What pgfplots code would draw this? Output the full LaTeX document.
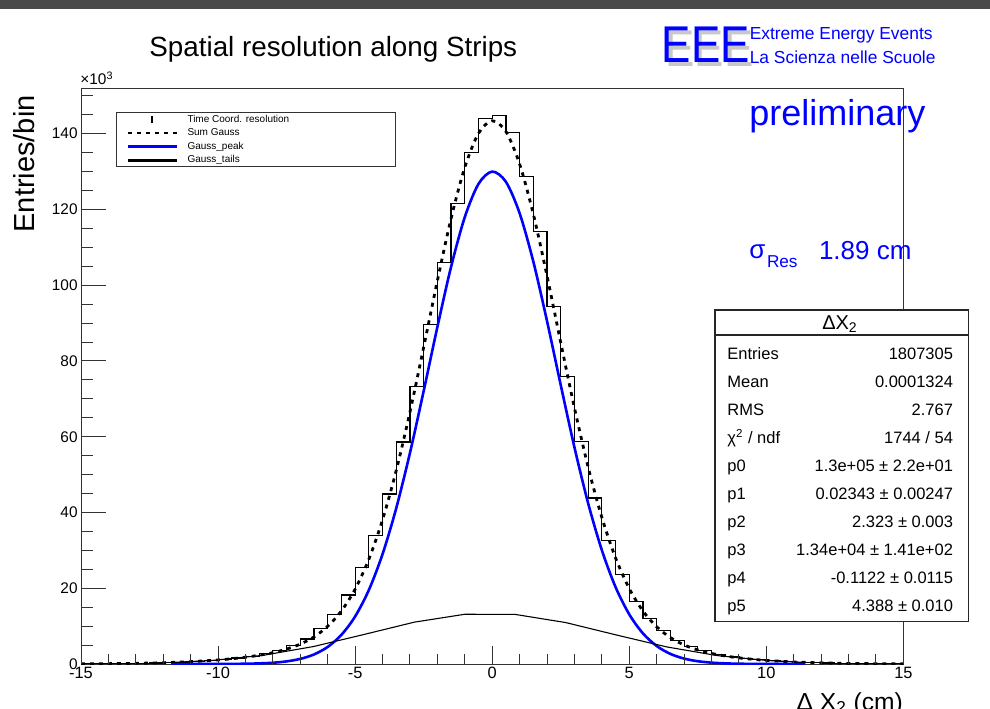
\documentclass[border=0pt]{standalone}
\usepackage{fontspec}
\setmainfont{Liberation Sans}
\usepackage{pgfplots}
\pgfplotsset{compat=1.18}
\definecolor{rootblue}{RGB}{0,0,255}
\definecolor{band}{RGB}{74,74,74}
\definecolor{shadowgray}{RGB}{200,200,200}

\begin{document}
\begin{tikzpicture}
\path[use as bounding box, fill=white] (0,0) rectangle (495pt,354pt);
\fill[band] (0,349.6pt) rectangle (495pt,354pt);

\begin{axis}[
  scale only axis, width=411.2pt, height=287.9pt,
  at={(40.5pt,22pt)}, anchor=south west,
  xmin=-15, xmax=15, ymin=0, ymax=152,
  axis line style={black!80, line width=0.5pt},
  xtick=\empty,
  ytick={0,20,...,140},
  minor ytick={0,5,...,150},
  ytick pos=left,
  tick align=inside,
  major tick length=12.5pt, minor tick length=6pt,
  every tick/.style={black!80, line width=0.5pt},
  yticklabel style={font=\fontsize{7.7}{9}\selectfont, inner sep=1.5pt},
  /pgf/number format/assume math mode=true,
  legend cell align=left,
  legend style={at={(0.0422,0.9583)}, anchor=north west, draw=black!80, line width=0.5pt,
    fill=white, font=\fontsize{5}{6}\selectfont, inner xsep=5.15pt, inner ysep=0.5pt,
    row sep=1.1pt, column sep=4.5pt, nodes={inner sep=0pt}},
]
% histogram (left bin edges, bin width 0.5)
\addplot[const plot, black, line width=0.6pt,
  legend image code/.code={\draw[black,line width=0.8pt] (12pt,-1.9pt) -- (12pt,1.9pt);}]
coordinates {
(-15,0.05) (-14.5,0.07) (-14,0.1) (-13.5,0.13) (-13,0.18) (-12.5,0.25) (-12,0.35) (-11.5,0.5)
(-11,0.7) (-10.5,0.95) (-10,1.25) (-9.5,1.6) (-9,2.05) (-8.5,2.7) (-8,3.6) (-7.5,4.8)
(-7,6.6) (-6.5,9.4) (-6,13.1) (-5.5,18.2) (-5,25.4) (-4.5,34.0) (-4,44.9) (-3.5,58.6)
(-3,73.3) (-2.5,89.6) (-2,105.9) (-1.5,121.5) (-1,135.0) (-0.5,144.0) (0,144.7) (0.5,140.2)
(1,128.6) (1.5,114.2) (2,94.4) (2.5,75.9) (3,58.7) (3.5,43.8) (4,32.5) (4.5,23.7)
(5,16.6) (5.5,12.1) (6,8.8) (6.5,6.3) (7,4.6) (7.5,3.5) (8,2.6) (8.5,2.0)
(9,1.5) (9.5,1.15) (10,0.9) (10.5,0.65) (11,0.5) (11.5,0.35) (12,0.25) (12.5,0.18)
(13,0.13) (13.5,0.1) (14,0.07) (14.5,0.05) (15,0.05)
};
\addlegendentry{\makebox[99pt][l]{Time Coord. resolution\strut}}
% Sum Gauss
\addplot[smooth, black, line width=1.4pt, dash pattern=on 2pt off 2.5pt,
  legend image code/.code={\draw[black,line width=1.4pt,dash pattern=on 2pt off 2.5pt] (0pt,0pt) -- (24.5pt,0pt);}]
coordinates {
(-15,0.04) (-14,0.09) (-13,0.18) (-12,0.34) (-11,0.62) (-10,1.07) (-9.5,1.39) (-9,1.79)
(-8.5,2.32) (-8,2.99) (-7.5,3.94) (-7,5.26) (-6.5,7.16) (-6,9.96) (-5.5,14.01) (-5,19.76)
(-4.5,27.65) (-4,38.06) (-3.5,51.10) (-3,66.52) (-2.5,83.62) (-2,101.18) (-1.5,117.60)
(-1,131.11) (-0.5,140.09) (0,143.39) (0.5,140.56) (1,131.98) (1.5,118.75) (2,102.45)
(2.5,84.86) (3,67.62) (3.5,51.97) (4,38.68) (4.5,28.01) (5,19.90) (5.5,13.98) (6,9.83)
(6.5,6.98) (7,5.03) (7.5,3.71) (8,2.79) (8.5,2.12) (9,1.62) (9.5,1.25) (10,0.95)
(11,0.54) (12,0.30) (13,0.15) (14,0.08) (15,0.04)
};
\addlegendentry{Sum Gauss\strut}
% Gauss peak
\addplot[smooth, rootblue, line width=1.3pt,
  legend image code/.code={\draw[rootblue,line width=1.5pt] (0pt,0pt) -- (24.5pt,0pt);}]
coordinates {
(-11.7,0.0) (-10,0.01) (-9,0.07) (-8.5,0.16) (-8,0.33) (-7.5,0.69) (-7,1.35) (-6.5,2.52)
(-6,4.51) (-5.5,7.70) (-5,12.55) (-4.5,19.52) (-4,29.01) (-3.5,41.15) (-3,55.73)
(-2.5,72.06) (-2,88.96) (-1.5,104.85) (-1,117.98) (-0.5,126.74) (0,129.99) (0.5,127.29)
(1,119.00) (1.5,106.22) (2,90.52) (2.5,73.64) (3,57.20) (3.5,42.42) (4,30.04) (4.5,20.30)
(5,13.10) (5.5,8.07) (6,4.75) (6.5,2.67) (7,1.43) (7.5,0.73) (8,0.36) (8.5,0.17)
(9,0.07) (10,0.01) (11.4,0.0)
};
\addlegendentry{Gauss\_peak\strut}
% Gauss tails
\addplot[black, line width=0.55pt,
  legend image code/.code={\draw[black,line width=1.5pt] (0pt,0pt) -- (24.5pt,0pt);}]
coordinates {
(-11.7,0.41) (-10.2,0.95) (-8.36,2.29) (-6.52,4.61) (-4.68,7.79) (-2.84,11.05) (-1.0,13.13)
(0.84,13.09) (2.68,10.94) (4.52,7.68) (6.36,4.52) (8.2,2.23) (10.04,0.92) (11.4,0.43)
};
\addlegendentry{Gauss\_tails\strut}
\end{axis}

\begin{axis}[
  scale only axis, width=411.2pt, height=287.9pt,
  at={(40.5pt,22pt)}, anchor=south west,
  xmin=-15, xmax=15, ymin=0, ymax=152,
  axis line style={draw=none},
  ytick=\empty,
  xtick={-15,-10,...,15},
  minor xtick={-15,-14,...,15},
  xtick pos=bottom,
  tick align=inside,
  major tick length=9pt, minor tick length=5pt,
  every tick/.style={black!80, line width=0.5pt},
  xticklabel style={font=\fontsize{8.2}{9}\selectfont, inner sep=1.5pt},
  /pgf/number format/assume math mode=true,
]
\end{axis}

% axis decorations
\node[anchor=base west, inner sep=0, font=\fontsize{7.7}{9}\selectfont] at (40pt,311.5pt) {×10\textsuperscript{3}};
\node[rotate=90, anchor=east, inner sep=0, font=\fontsize{14.5}{17}\selectfont] at (12.2pt,306.5pt) {Entries/bin};
\node[anchor=base east, inner sep=0, font=\fontsize{12.3}{14}\selectfont] at (451.65pt,-1pt) {Δ X\textsubscript{2} (cm)};
\node[anchor=base west, inner sep=0, font=\fontsize{13.9}{16}\selectfont] at (74.5pt,325.65pt) {Spatial resolution along Strips};

% logo
\node[anchor=base west, inner sep=0, font=\fontsize{25.85}{30}\selectfont, text=shadowgray, xscale=0.85] at (332.6pt,320.7pt) {EEE};
\node[anchor=base west, inner sep=0, font=\fontsize{25.85}{30}\selectfont, text=rootblue, xscale=0.85] at (330.8pt,322.85pt) {EEE};
\node[anchor=base west, inner sep=0, font=\fontsize{8.7}{10}\selectfont, text=rootblue] at (374.7pt,334.35pt) {Extreme Energy Events};
\node[anchor=base west, inner sep=0, font=\fontsize{8.7}{10}\selectfont, text=rootblue] at (374.7pt,322pt) {La Scienza nelle Scuole};

\node[anchor=base west, inner sep=0, font=\fontsize{18}{21}\selectfont, text=rootblue] at (374.5pt,291pt) {preliminary};
\node[anchor=base west, inner sep=0, font=\fontsize{13}{15}\selectfont, text=rootblue] at (374.5pt,224.85pt) {σ};
\node[anchor=base west, inner sep=0, font=\fontsize{8.6}{10}\selectfont, text=rootblue] at (383.3pt,220pt) {Res};
\node[anchor=base west, inner sep=0, font=\fontsize{13}{15}\selectfont, text=rootblue] at (409.3pt,224pt) {1.89 cm};

% stats box
\draw[black!85, line width=0.6pt, fill=white] (357.5pt,43.15pt) rectangle (484.15pt,199pt);
\draw[black!85, line width=0.6pt] (357.5pt,186.5pt) -- (484.15pt,186.5pt);
\node[anchor=base, inner sep=0, font=\fontsize{10}{12}\selectfont] at (420pt,189.35pt) {ΔX\textsubscript{2}};
\begin{scope}[every node/.style={inner sep=0, font=\fontsize{8.25}{10}\selectfont}]
\node[anchor=base west] at (363.5pt,174.4pt) {Entries};
\node[anchor=base east] at (476.7pt,174.4pt) {1807305};
\node[anchor=base west] at (363.5pt,160.35pt) {Mean};
\node[anchor=base east] at (476.7pt,160.35pt) {0.0001324};
\node[anchor=base west] at (363.5pt,146.35pt) {RMS};
\node[anchor=base east] at (476.7pt,146.35pt) {2.767};
\node[anchor=base west] at (363.5pt,132.3pt) {χ\textsuperscript{2} / ndf};
\node[anchor=base east] at (476.7pt,132.3pt) {1744 / 54};
\node[anchor=base west] at (363.5pt,118.25pt) {p0};
\node[anchor=base east] at (476.7pt,118.25pt) {1.3e+05 ± 2.2e+01};
\node[anchor=base west] at (363.5pt,104.2pt) {p1};
\node[anchor=base east] at (476.7pt,104.2pt) {0.02343 ± 0.00247};
\node[anchor=base west] at (363.5pt,90.2pt) {p2};
\node[anchor=base east] at (476.7pt,90.2pt) {2.323 ± 0.003};
\node[anchor=base west] at (363.5pt,76.15pt) {p3};
\node[anchor=base east] at (476.7pt,76.15pt) {1.34e+04 ± 1.41e+02};
\node[anchor=base west] at (363.5pt,62.1pt) {p4};
\node[anchor=base east] at (476.7pt,62.1pt) {-0.1122 ± 0.0115};
\node[anchor=base west] at (363.5pt,48.1pt) {p5};
\node[anchor=base east] at (476.7pt,48.1pt) {4.388 ± 0.010};
\end{scope}
\end{tikzpicture}
\end{document}
